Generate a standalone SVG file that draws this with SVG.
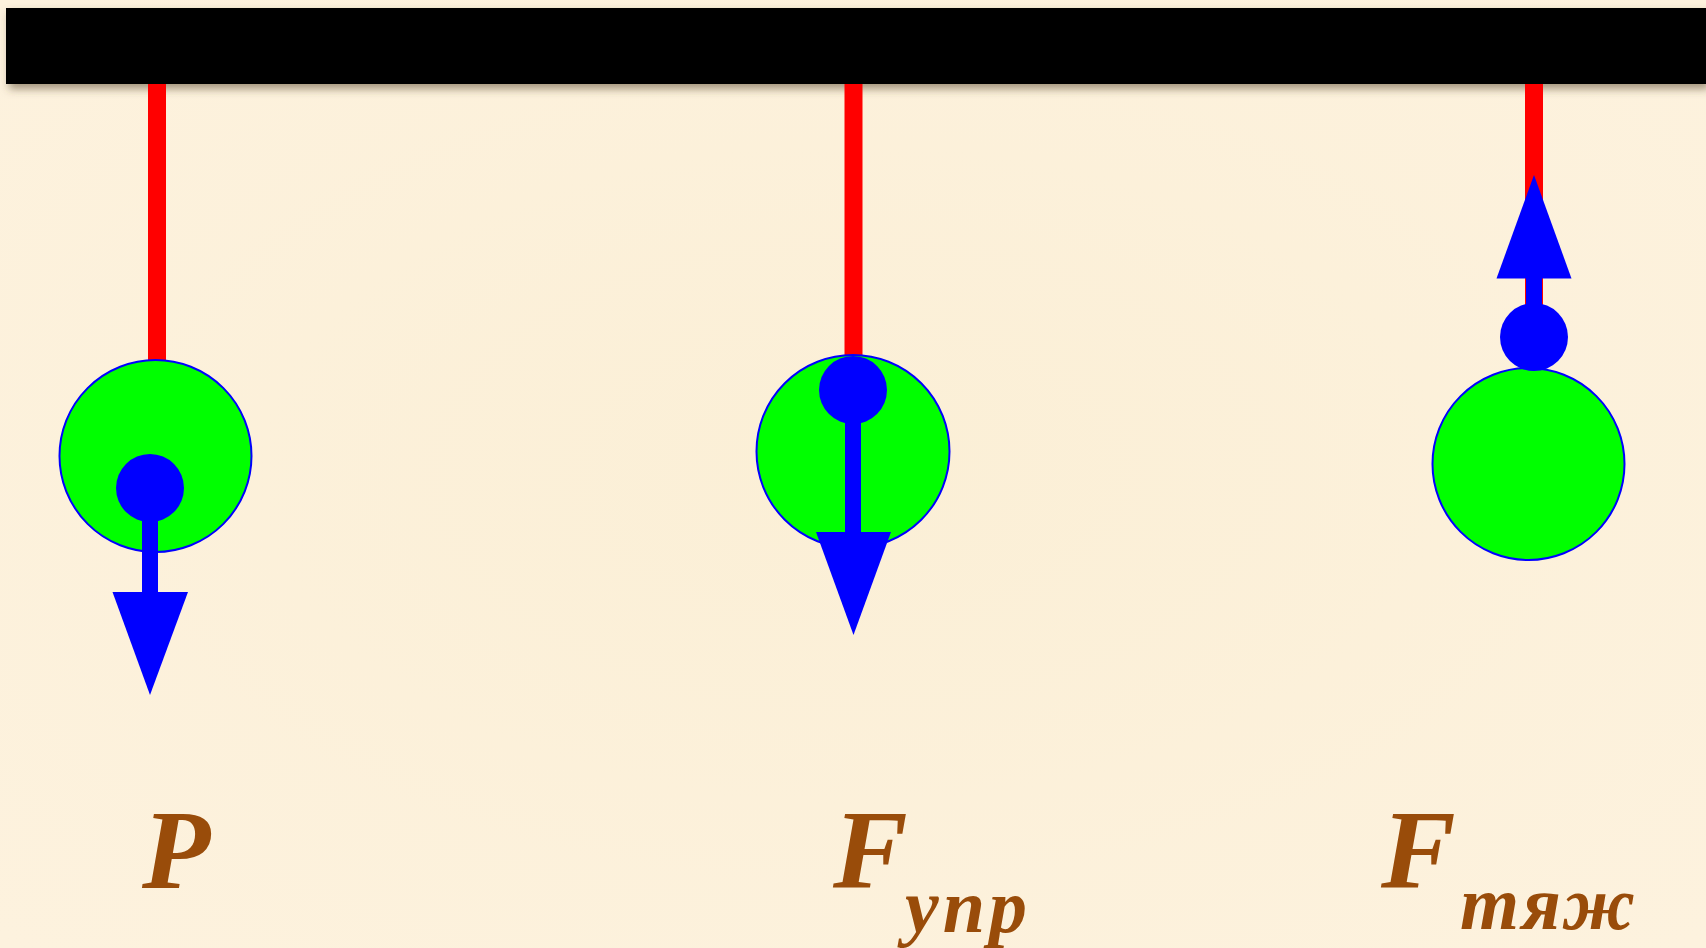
<svg xmlns="http://www.w3.org/2000/svg" width="1706" height="948" viewBox="0 0 1706 948">
<defs>
<filter id="sh" x="-5%" y="-50%" width="110%" height="200%">
<feDropShadow dx="3" dy="5" stdDeviation="4" flood-color="#5a4a30" flood-opacity="0.55"/>
</filter>
<radialGradient id="bg" cx="50%" cy="50%" r="70%">
<stop offset="0" stop-color="#fbefd6"/>
<stop offset="1" stop-color="#fdf2de"/>
</radialGradient>
</defs>
<style>
.str{stroke:#ff0000;stroke-width:18;fill:none}
.ball{fill:#00ff00;stroke:#0000ff;stroke-width:2}
.dot{fill:#0000ff}
.shaft{stroke:#0000ff;stroke-width:16;fill:none}
.head{fill:#0000ff}
.lbl{font-family:"Liberation Serif","Tinos","Times New Roman","Nimbus Roman","FreeSerif","DejaVu Serif",serif;font-weight:bold;font-style:italic;fill:#994c0a}
.big{font-size:112px}
.sub{font-size:76px}
</style>
<rect x="0" y="0" width="1706" height="948" fill="url(#bg)"/>
<g id="beam">
<rect x="6" y="8" width="1700" height="76" fill="#000" filter="url(#sh)"/>
</g>
<g id="connectors">
<line class="str" x1="157" y1="84" x2="157" y2="362"/>
<line class="str" x1="853.5" y1="84" x2="853.5" y2="358"/>
<line class="str" x1="1534" y1="84" x2="1534" y2="305"/>
</g>
<g id="weight1">
<circle class="ball" cx="155.5" cy="456" r="96"/>
<circle class="dot" cx="150" cy="488" r="34"/>
<line class="shaft" x1="150" y1="488" x2="150" y2="594"/>
<polygon class="head" points="112.5,592 188,592 150,695"/>
</g>
<g id="weight2">
<circle class="ball" cx="853" cy="451.5" r="96.5"/>
<circle class="dot" cx="853" cy="390" r="34"/>
<line class="shaft" x1="853" y1="390" x2="853" y2="534"/>
<polygon class="head" points="816,532 891,532 853.5,635"/>
</g>
<g id="weight3">
<circle class="ball" cx="1528.5" cy="464" r="96"/>
<circle class="dot" cx="1534" cy="337" r="34"/>
<line class="shaft" x1="1534" y1="337" x2="1534" y2="276"/>
<polygon class="head" points="1496.5,278.5 1571.5,278.5 1534,175"/>
</g>
<g id="label-P">
<text class="lbl big" x="142" y="888">P</text>
</g>
<g id="label-Fupr">
<text class="lbl big" x="833" y="888">F</text>
<text class="lbl sub" x="905" y="932" textLength="122">упр</text>
</g>
<g id="label-Ftyazh">
<text class="lbl big" x="1381" y="888">F</text>
<text class="lbl sub" x="1460" y="929" textLength="175">тяж</text>
</g>
</svg>
